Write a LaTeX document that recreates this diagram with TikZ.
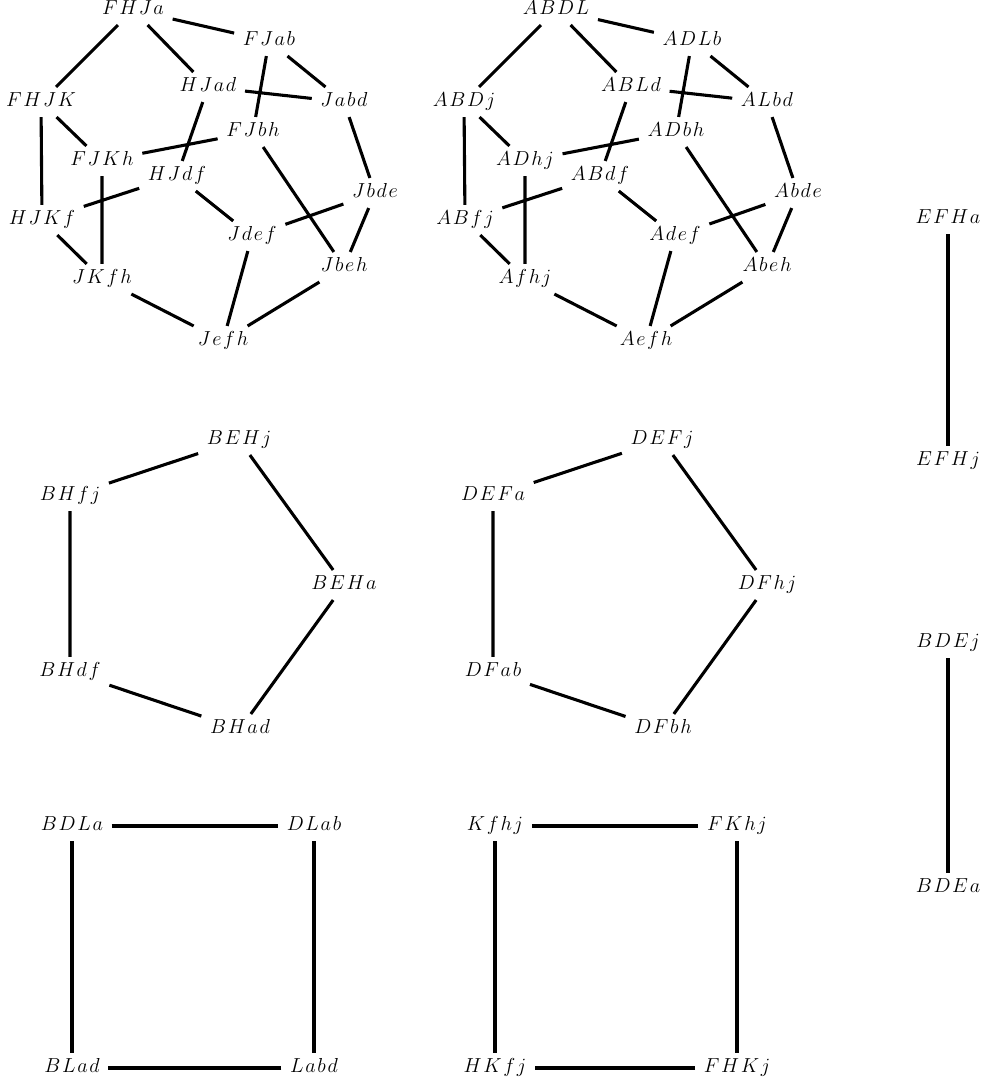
\documentclass[tikz,border=0pt]{standalone}
\usepackage{tikz}

% labels with a little room between the letters
\newcommand\lbl[1]{$\lbli#1\relax$}
\def\lbli#1#2{#1\ifx#2\relax\else\mkern1.5mu\expandafter\lbli\expandafter#2\fi}

\tikzset{
vtx/.style={
  inner xsep=6pt,
  inner ysep=4pt,
  text height=10pt,
  text depth=3pt,
  font=\fontsize{14.4}{17}\selectfont
},
link/.style={
  line width=2.2pt
}
}

\begin{document}
\begin{tikzpicture}[x=0.25mm,y=-0.25mm]
\useasboundingbox (0,0) rectangle (984,1082);

% first cubic graph
\node[vtx] (FHJa) at (133,10) {\lbl{FHJa}};
\node[vtx] (FJab) at (269,41) {\lbl{FJab}};
\node[vtx] (HJad) at (208,87) {\lbl{HJad}};
\node[vtx] (Jabd) at (344,102) {\lbl{Jabd}};
\node[vtx] (FHJK) at (41,102) {\lbl{FHJK}};
\node[vtx] (FJbh) at (253,132) {\lbl{FJbh}};
\node[vtx] (FJKh) at (102,161) {\lbl{FJKh}};
\node[vtx] (HJdf) at (177,176) {\lbl{HJdf}};
\node[vtx] (Jbde) at (375,193) {\lbl{Jbde}};
\node[vtx] (HJKf) at (42,220) {\lbl{HJKf}};
\node[vtx] (Jdef) at (252,236) {\lbl{Jdef}};
\node[vtx] (Jbeh) at (344,267) {\lbl{Jbeh}};
\node[vtx] (JKfh) at (102,279) {\lbl{JKfh}};
\node[vtx] (Jefh) at (223,341) {\lbl{Jefh}};

\draw[link] (FHJa) -- (FJab) (FHJa) -- (FHJK) (FHJa) -- (HJad)
  (FJab) -- (Jabd) (FJab) -- (FJbh) (HJad) -- (Jabd) (HJad) -- (HJdf)
  (FHJK) -- (FJKh) (FHJK) -- (HJKf) (FJKh) -- (FJbh) (FJKh) -- (JKfh)
  (HJdf) -- (HJKf) (HJdf) -- (Jdef) (Jabd) -- (Jbde) (Jbde) -- (Jdef)
  (Jbde) -- (Jbeh) (FJbh) -- (Jbeh) (HJKf) -- (JKfh) (JKfh) -- (Jefh)
  (Jdef) -- (Jefh) (Jbeh) -- (Jefh);

% second cubic graph
\node[vtx] (ABDL) at (556,10) {\lbl{ABDL}};
\node[vtx] (ADLb) at (692,41) {\lbl{ADLb}};
\node[vtx] (ABLd) at (631,87) {\lbl{ABLd}};
\node[vtx] (ALbd) at (767,102) {\lbl{ALbd}};
\node[vtx] (ABDj) at (464,102) {\lbl{ABDj}};
\node[vtx] (ADbh) at (676,132) {\lbl{ADbh}};
\node[vtx] (ADhj) at (525,161) {\lbl{ADhj}};
\node[vtx] (ABdf) at (600,176) {\lbl{ABdf}};
\node[vtx] (Abde) at (798,193) {\lbl{Abde}};
\node[vtx] (ABfj) at (465,220) {\lbl{ABfj}};
\node[vtx] (Adef) at (675,236) {\lbl{Adef}};
\node[vtx] (Abeh) at (767,267) {\lbl{Abeh}};
\node[vtx] (Afhj) at (525,279) {\lbl{Afhj}};
\node[vtx] (Aefh) at (646,341) {\lbl{Aefh}};

\draw[link] (ABDL) -- (ADLb) (ABDL) -- (ABDj) (ABDL) -- (ABLd)
  (ADLb) -- (ALbd) (ADLb) -- (ADbh) (ABLd) -- (ALbd) (ABLd) -- (ABdf)
  (ABDj) -- (ADhj) (ABDj) -- (ABfj) (ADhj) -- (ADbh) (ADhj) -- (Afhj)
  (ABdf) -- (ABfj) (ABdf) -- (Adef) (ALbd) -- (Abde) (Abde) -- (Adef)
  (Abde) -- (Abeh) (ADbh) -- (Abeh) (ABfj) -- (Afhj) (Afhj) -- (Aefh)
  (Adef) -- (Aefh) (Abeh) -- (Aefh);

% pentagons
\node[vtx] (BEHj) at (239,440) {\lbl{BEHj}};
\node[vtx] (BHfj) at (70,496) {\lbl{BHfj}};
\node[vtx] (BEHa) at (344,585) {\lbl{BEHa}};
\node[vtx] (BHdf) at (70,672) {\lbl{BHdf}};
\node[vtx] (BHad) at (240,729) {\lbl{BHad}};
\draw[link] (BEHj) -- (BHfj) (BHfj) -- (BHdf) (BHdf) -- (BHad)
  (BHad) -- (BEHa) (BEHa) -- (BEHj);

\node[vtx] (DEFj) at (662,440) {\lbl{DEFj}};
\node[vtx] (DEFa) at (493,496) {\lbl{DEFa}};
\node[vtx] (DFhj) at (767,585) {\lbl{DFhj}};
\node[vtx] (DFab) at (493,672) {\lbl{DFab}};
\node[vtx] (DFbh) at (663,729) {\lbl{DFbh}};
\draw[link] (DEFj) -- (DEFa) (DEFa) -- (DFab) (DFab) -- (DFbh)
  (DFbh) -- (DFhj) (DFhj) -- (DEFj);

% squares
\node[vtx] (BDLa) at (72,826) {\lbl{BDLa}};
\node[vtx] (DLab) at (314,826) {\lbl{DLab}};
\node[vtx] (BLad) at (72,1068) {\lbl{BLad}};
\node[vtx] (Labd) at (314,1068) {\lbl{Labd}};
\draw[link] (BDLa) -- (DLab) (DLab) -- (Labd) (Labd) -- (BLad)
  (BLad) -- (BDLa);

\node[vtx] (Kfhj) at (495,826) {\lbl{Kfhj}};
\node[vtx] (FKhj) at (737,826) {\lbl{FKhj}};
\node[vtx] (HKfj) at (495,1068) {\lbl{HKfj}};
\node[vtx] (FHKj) at (737,1068) {\lbl{FHKj}};
\draw[link] (Kfhj) -- (FKhj) (FKhj) -- (FHKj) (FHKj) -- (HKfj)
  (HKfj) -- (Kfhj);

% single edges
\node[vtx] (EFHa) at (948,219) {\lbl{EFHa}};
\node[vtx] (EFHj) at (948,461) {\lbl{EFHj}};
\draw[link] (EFHa) -- (EFHj);

\node[vtx] (BDEj) at (948,643) {\lbl{BDEj}};
\node[vtx] (BDEa) at (948,888) {\lbl{BDEa}};
\draw[link] (BDEj) -- (BDEa);
\end{tikzpicture}
\end{document}
